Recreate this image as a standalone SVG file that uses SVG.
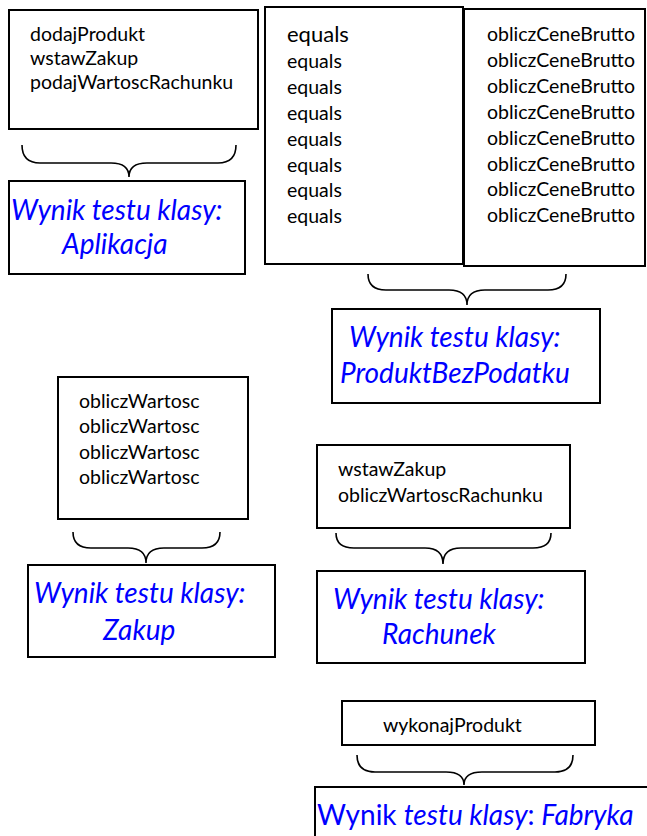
<svg xmlns="http://www.w3.org/2000/svg" width="647" height="836" viewBox="0 0 647 836">
<style>
.box{fill:#fff;stroke:#000;stroke-width:2}
.t{font-family:Lato,"Open Sans",sans-serif;font-size:19.5px;fill:#000}
.b{font-family:Lato,"Open Sans",sans-serif;font-size:28px;font-style:italic;fill:#0000ff}
.br{fill:none;stroke:#000;stroke-width:1.6}
</style>
<rect width="647" height="836" fill="#fff"/>
<g id="aplikacja-methods">
<rect class="box" x="9" y="10" width="249" height="119"/>
<text class="t" x="30" y="41">dodajProdukt</text>
<text class="t" x="30" y="65">wstawZakup</text>
<text class="t" x="30" y="89">podajWartoscRachunku</text>
</g>
<g id="aplikacja-result">
<rect class="box" x="9" y="181" width="236" height="93"/>
<text class="b" x="11" y="220">Wynik testu klasy:</text>
<text class="b" x="62" y="254">Aplikacja</text>
</g>
<g id="equals-box">
<rect class="box" x="265" y="7" width="198" height="257"/>
<text class="t" x="287" y="42" style="font-size:22px">equals</text>
<text class="t" x="287" y="68">equals</text>
<text class="t" x="287" y="94">equals</text>
<text class="t" x="287" y="120">equals</text>
<text class="t" x="287" y="146">equals</text>
<text class="t" x="287" y="172">equals</text>
<text class="t" x="287" y="197">equals</text>
<text class="t" x="287" y="223">equals</text>
</g>
<g id="brutto-box">
<rect class="box" x="464" y="9" width="181" height="257"/>
<text class="t" x="487" y="41">obliczCeneBrutto</text>
<text class="t" x="487" y="67">obliczCeneBrutto</text>
<text class="t" x="487" y="93">obliczCeneBrutto</text>
<text class="t" x="487" y="119">obliczCeneBrutto</text>
<text class="t" x="487" y="145">obliczCeneBrutto</text>
<text class="t" x="487" y="171">obliczCeneBrutto</text>
<text class="t" x="487" y="196">obliczCeneBrutto</text>
<text class="t" x="487" y="222">obliczCeneBrutto</text>
</g>
<g id="produkt-result">
<rect class="box" x="332" y="309" width="268" height="94"/>
<text class="b" x="349" y="347">Wynik testu klasy:</text>
<text class="b" x="340" y="383">ProduktBezPodatku</text>
</g>
<g id="zakup-methods">
<rect class="box" x="58" y="377" width="190" height="142"/>
<text class="t" x="79" y="408">obliczWartosc</text>
<text class="t" x="79" y="433">obliczWartosc</text>
<text class="t" x="79" y="459">obliczWartosc</text>
<text class="t" x="79" y="484">obliczWartosc</text>
</g>
<g id="zakup-result">
<rect class="box" x="28" y="565" width="247" height="92"/>
<text class="b" x="34" y="603">Wynik testu klasy:</text>
<text class="b" x="103" y="640">Zakup</text>
</g>
<g id="rachunek-methods">
<rect class="box" x="317" y="445" width="253" height="83"/>
<text class="t" x="338" y="476">wstawZakup</text>
<text class="t" x="338" y="502">obliczWartoscRachunku</text>
</g>
<g id="rachunek-result">
<rect class="box" x="317" y="571" width="268" height="92"/>
<text class="b" x="333" y="609">Wynik testu klasy:</text>
<text class="b" x="382" y="644">Rachunek</text>
</g>
<g id="fabryka-methods">
<rect class="box" x="342" y="701" width="253" height="44"/>
<text class="t" x="383" y="732">wykonajProdukt</text>
</g>
<g id="fabryka-result">
<rect class="box" x="315" y="787" width="340" height="60"/>
<text class="b" x="317" y="825"><tspan style="font-style:normal">Wynik </tspan>testu klasy<tspan style="font-style:normal">:</tspan> Fabryka</text>
</g>
<g id="connectors">
<path class="br" d="M22,145 Q22,163 40,163 L111,163 Q129,163 129,177 Q129,163 147,163 L218,163 Q236,163 236,145"/>
<path class="br" d="M368,274 Q368,290 386,290 L449,290 Q467,290 467,305 Q467,290 485,290 L548,290 Q566,290 566,274"/>
<path class="br" d="M73,532 Q73,548 91,548 L128,548 Q146,548 146,563 Q146,548 164,548 L202,548 Q220,548 220,532"/>
<path class="br" d="M336,533 Q336,548 354,548 L425,548 Q443,548 443,564 Q443,548 461,548 L533,548 Q551,548 551,533"/>
<path class="br" d="M357,755 Q357,772 375,772 L446,772 Q464,772 464,785 Q464,772 482,772 L555,772 Q573,772 573,755"/>
</g>
</svg>
